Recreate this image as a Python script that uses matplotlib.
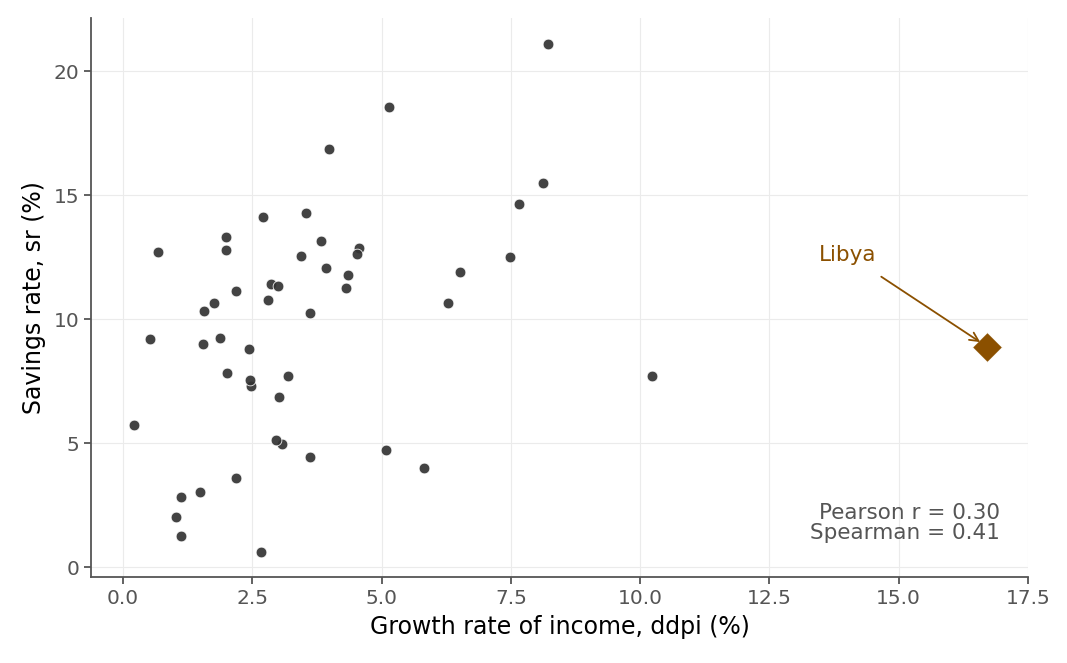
import numpy as np
import pandas as pd
import matplotlib
matplotlib.use("Agg")
import matplotlib.pyplot as plt

countries = ["Australia","Austria","Belgium","Bolivia","Brazil","Canada","Chile","China","Colombia","Costa Rica",
             "Denmark","Ecuador","Finland","France","Germany","Greece","Guatamala","Honduras","Iceland","India",
             "Ireland","Italy","Japan","Korea","Luxembourg","Malta","Norway","Netherlands","New Zealand","Nicaragua",
             "Panama","Paraguay","Peru","Philippines","Portugal","South Africa","South Rhodesia","Spain","Sweden","Switzerland",
             "Turkey","Tunisia","United Kingdom","United States","Venezuela","Zambia","Jamaica","Uruguay","Libya","Malaysia"]
ddpi = [2.87,3.93,3.82,0.22,4.56,2.43,2.67,6.51,3.08,2.80,
        3.99,2.19,4.32,4.52,3.44,6.28,1.48,3.19,1.12,1.54,
        2.99,3.54,8.21,5.81,1.57,8.12,3.62,7.66,1.76,2.48,
        3.61,1.03,0.67,2.00,7.48,2.19,2.00,4.35,3.01,2.70,
        2.96,1.13,2.01,2.45,0.53,5.14,10.23,1.88,16.71,5.08]
sr = [11.43,12.07,13.17,5.75,12.88,8.79,0.60,11.90,4.98,10.78,
      16.85,3.59,11.24,12.64,12.55,10.67,3.01,7.70,1.27,9.00,
      11.34,14.28,21.10,3.98,10.35,15.48,10.25,14.65,10.67,7.30,
      4.44,2.02,12.70,12.78,12.49,11.14,13.30,11.77,6.86,14.13,
      5.13,2.81,7.81,7.56,9.22,18.56,7.72,9.24,8.89,4.71]
highlight = "Libya"

df = pd.DataFrame({"country": countries, "ddpi": ddpi, "sr": sr})
pearson = df["ddpi"].corr(df["sr"])
spearman = df["ddpi"].corr(df["sr"], method="spearman")

plt.rcParams["font.family"] = ["DejaVu Sans"]
fig = plt.figure(figsize=(10.67, 6.63), dpi=100)
ax = fig.add_axes([91/1067, 1-577/663, (1028-91)/1067, (577-18)/663])

others = df[df["country"] != highlight]
hl = df[df["country"] == highlight]
ax.scatter(others["ddpi"], others["sr"], s=60, color="#333333", alpha=0.92,
           edgecolor="white", linewidth=0.6, zorder=3)
ax.scatter(hl["ddpi"], hl["sr"], s=230, marker="D", color="#8B5000",
           edgecolor="white", linewidth=0.6, zorder=4)
hx, hy = float(hl["ddpi"].iloc[0]), float(hl["sr"].iloc[0])
ax.annotate(highlight, xy=(hx, hy), xytext=(14.02, 12.6), color="#8B5000",
            fontsize=15.5, ha="center", va="center",
            arrowprops=dict(arrowstyle="->", color="#8B5000", lw=1.3,
                            shrinkA=12, shrinkB=6), zorder=5)

ax.text(0.97, 0.06, f"Pearson r = {pearson:.2f}\nSpearman = {spearman:.2f}",
        transform=ax.transAxes, ha="right", va="bottom", fontsize=15.5,
        color="#555555", linespacing=1.0)

ax.set_xlim(-0.62, 17.5)
ax.set_ylim(-0.4, 22.15)
ax.set_xticks(np.arange(0, 17.6, 2.5))
ax.set_yticks([0, 5, 10, 15, 20])
ax.grid(True, color="#ebebeb", linewidth=0.8)
ax.set_axisbelow(True)
for s in ["top", "right"]:
    ax.spines[s].set_visible(False)
for s in ["left", "bottom"]:
    ax.spines[s].set_color("#555555")
    ax.spines[s].set_linewidth(1.3)
ax.tick_params(colors="#555555", labelsize=14.5, length=5, width=1.3)
ax.set_xlabel("Growth rate of income, ddpi (%)", fontsize=17, color="black", labelpad=5)
ax.set_ylabel("Savings rate, sr (%)", fontsize=17, color="black", labelpad=5)

fig.savefig("out.png", dpi=100)
